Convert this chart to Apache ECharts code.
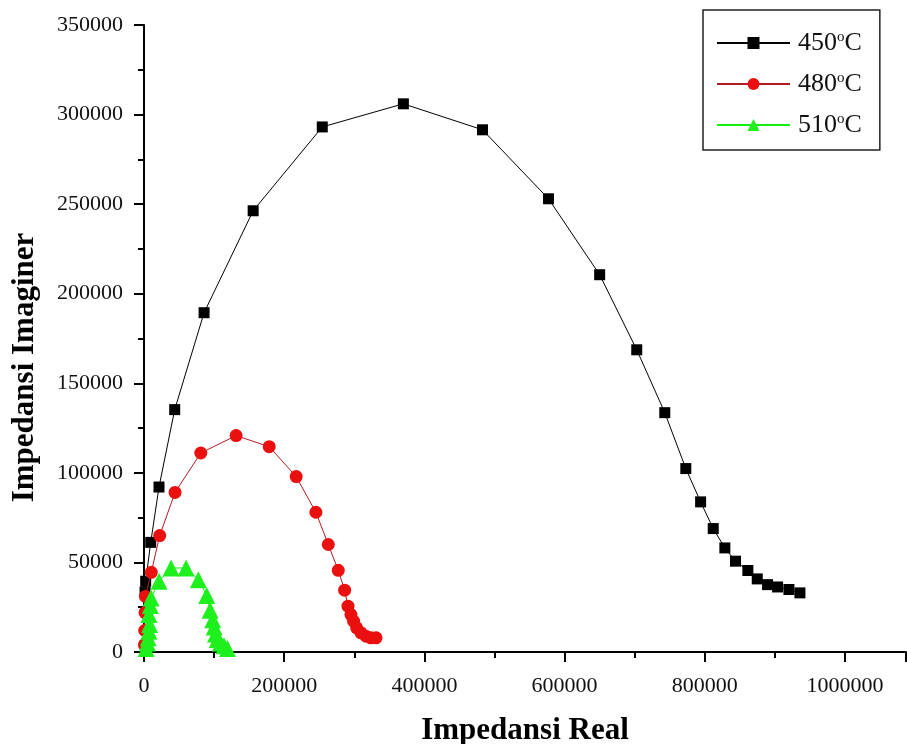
<!DOCTYPE html>
<html>
<head>
<meta charset="utf-8">
<script src="https://cdn.jsdelivr.net/npm/echarts@6/dist/echarts.min.js"></script>
<style>
html,body{margin:0;padding:0;background:#fff;}
#chart{width:907px;height:744px;}
</style>
</head>
<body>
<div id="chart"></div>
<script>
// ---- data ----
const seriesNames = ['450°C', '480°C', '510°C'];

const x450 = [1500, 2400, 9600, 21400, 43800, 85700, 155700, 254300, 370000, 482900, 577000, 650000, 702900, 742900, 772900, 794000, 812000, 828600, 843800, 861400, 874800, 889500, 903800, 920000, 935700];
const y450 = [33500, 39500, 61200, 92100, 135300, 189400, 246300, 293100, 306000, 291500, 253000, 210600, 168700, 133600, 102400, 83800, 68900, 58100, 50700, 45500, 40800, 37600, 36300, 34900, 33000];

const x480 = [500, 1000, 1500, 2000, 10400, 22400, 44300, 81000, 131400, 178600, 217100, 245200, 262900, 277100, 286200, 291000, 295200, 299000, 303300, 309500, 316700, 323800, 331000];
const y480 = [4000, 12000, 22000, 31000, 44500, 65000, 89100, 111100, 120800, 114600, 97900, 78000, 60000, 45600, 34500, 25600, 20900, 17200, 13500, 10700, 8800, 7900, 7900];

const x510 = [3000, 5000, 6000, 7000, 8000, 7000, 9000, 10000, 21400, 38600, 60000, 77600, 89500, 94300, 98000, 100000, 102000, 104500, 109000, 114000, 119000];
const y510 = [2000, 5000, 8000, 11600, 15300, 20900, 26000, 30200, 39500, 46900, 46900, 40400, 31500, 23300, 18000, 14000, 10000, 7000, 5000, 3500, 2000];

const xTicks = [0, 200000, 400000, 600000, 800000, 1000000];
const yTicks = [0, 50000, 100000, 150000, 200000, 250000, 300000, 350000];

const xName = 'Impedansi Real';
const yName = 'Impedansi Imaginer';

// ---- build ----
function pairs(xs, ys) { return xs.map((x, i) => [x, ys[i]]); }

const serif = '"Liberation Serif", "DejaVu Serif", serif';
const chart = echarts.init(document.getElementById('chart'), null, {renderer: 'canvas'});

const axisCommon = {
  axisLine: {show: true, onZero: false, lineStyle: {color: '#000', width: 2}},
  axisTick: {show: true, inside: false, length: 10, lineStyle: {color: '#000', width: 2}},
  minorTick: {show: true, splitNumber: 2, length: 6, lineStyle: {color: '#000', width: 2}},
  splitLine: {show: false},
  minorSplitLine: {show: false},
  nameTextStyle: {fontFamily: serif, fontSize: 31, fontWeight: 'bold', color: '#000'}
};

chart.setOption({
  animation: false,
  backgroundColor: '#fff',
  grid: {left: 144, right: 1, top: 25, bottom: 92, containLabel: false, outerBoundsMode: 'none'},
  xAxis: Object.assign({}, axisCommon, {
    type: 'value',
    min: 0,
    max: 1087000,
    interval: 200000,
    name: xName,
    nameLocation: 'middle',
    nameGap: 63,
    axisLabel: {
      fontFamily: serif, fontSize: 22, color: '#111', margin: 23,
      formatter: v => xTicks.includes(v) ? String(v) : ''
    }
  }),
  yAxis: Object.assign({}, axisCommon, {
    type: 'value',
    min: 0,
    max: 350000,
    interval: 50000,
    name: yName,
    nameLocation: 'middle',
    nameGap: 104,
    nameTextStyle: Object.assign({}, axisCommon.nameTextStyle, {padding: [0, 58, 0, 0]}),
    axisLabel: {
      fontFamily: serif, fontSize: 22, color: '#111', margin: 21,
      formatter: v => yTicks.includes(v) ? String(v) : ''
    }
  }),
  legend: {
    orient: 'vertical',
    left: 703,
    top: 10,
    padding: [19, 18, 11, 13],
    itemWidth: 73,
    itemHeight: 15,
    itemGap: 13,
    borderColor: '#222',
    borderWidth: 1.5,
    backgroundColor: '#fff',
    data: seriesNames,
    formatter: n => n.replace('°C', '{sup|o}C'),
    textStyle: {
      fontFamily: serif, fontSize: 26, color: '#111', lineHeight: 28, padding: [0, 0, 0, 3],
      rich: {
        sup: {fontFamily: serif, fontSize: 15, color: '#111', padding: [0, 0, 12, 0], lineHeight: 28}
      }
    }
  },
  series: [
    {
      name: seriesNames[0], type: 'line', data: pairs(x450, y450),
      symbol: 'rect', symbolSize: 11, showAllSymbol: true,
      lineStyle: {color: '#000', width: 1},
      itemStyle: {color: '#000'}, z: 3
    },
    {
      name: seriesNames[1], type: 'line', data: pairs(x480, y480),
      symbol: 'circle', symbolSize: 13, showAllSymbol: true,
      lineStyle: {color: '#b01c24', width: 1},
      itemStyle: {color: '#ea1010'}, z: 4
    },
    {
      name: seriesNames[2], type: 'line', data: pairs(x510, y510),
      symbol: 'triangle', symbolSize: 17, showAllSymbol: true,
      lineStyle: {color: '#11ee11', width: 1},
      itemStyle: {color: '#1ef01e'}, z: 5
    }
  ]
});
</script>
</body>
</html>
